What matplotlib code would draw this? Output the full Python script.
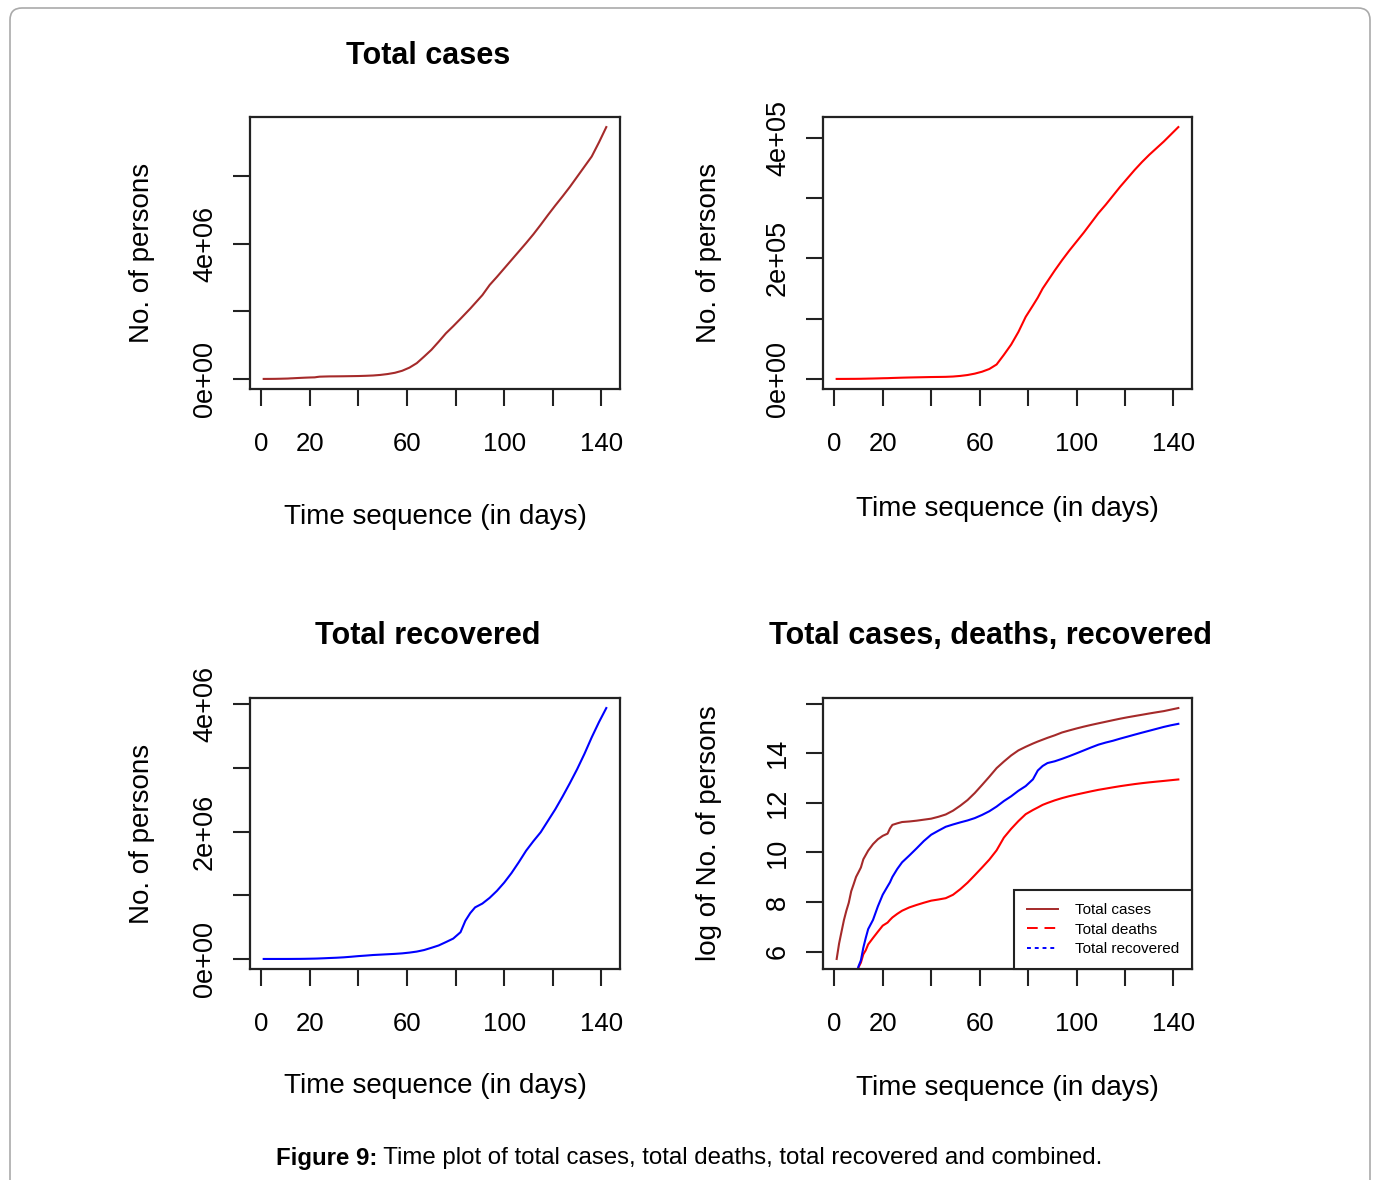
import numpy as np
import matplotlib
matplotlib.use('Agg')
import matplotlib.pyplot as plt
from matplotlib.lines import Line2D
from matplotlib.patches import FancyBboxPatch
from matplotlib.transforms import IdentityTransform

plt.rcParams['font.family'] = ['Liberation Sans', 'DejaVu Sans']

# world totals (day index 1..142)
days = [1, 2, 3, 4, 5, 6, 7, 8, 9, 10, 11, 12, 13, 14, 16, 18, 20, 22, 23, 24,
        26, 28, 31, 34, 37, 40, 43, 46, 49, 52, 55, 58, 61, 64, 67, 70, 73, 76,
        79, 82, 84, 86, 88, 91, 94, 97, 100, 103, 106, 109, 112, 115, 118, 121,
        124, 127, 130, 133, 136, 139, 142]

total_cases = [300, 560, 900, 1440, 2100, 2900, 4600, 6100, 8200, 9900, 12000,
               16700, 19900, 23700, 30800, 37500, 43000, 47000, 58000, 66900,
               71200, 75100, 76800, 79300, 82600, 86000, 92800, 101800, 118600,
               145000, 182000, 242000, 335000, 467000, 660000, 860000, 1100000,
               1350000, 1560000, 1780000, 1930000, 2080000, 2240000, 2480000,
               2780000, 3020000, 3270000, 3520000, 3770000, 4020000, 4280000,
               4560000, 4850000, 5130000, 5400000, 5680000, 5980000, 6280000,
               6580000, 7000000, 7450000]

total_deaths = [17, 18, 26, 42, 56, 82, 131, 133, 171, 213, 259, 362, 426, 540,
                700, 900, 1150, 1300, 1450, 1600, 1850, 2100, 2400, 2650, 2900,
                3150, 3300, 3480, 3990, 5000, 6500, 8800, 12000, 16500, 24000,
                40000, 57000, 78000, 103000, 122000, 135000, 150000, 162000,
                180000, 197000, 213000, 228000, 243000, 259000, 275000, 289000,
                304000, 319000, 333000, 347000, 360000, 372000, 383000, 394000,
                406000, 418000]

total_recovered = [28, 30, 36, 39, 52, 61, 107, 126, 143, 222, 284, 472, 700,
                   1000, 1450, 2500, 4000, 5600, 6600, 8200, 11300, 14800,
                   19500, 26000, 35000, 45000, 53000, 62000, 68000, 74000,
                   80000, 88000, 100000, 116000, 140000, 175000, 212000, 265000,
                   320000, 420000, 600000, 720000, 810000, 870000, 960000,
                   1070000, 1200000, 1350000, 1520000, 1700000, 1850000,
                   1990000, 2170000, 2350000, 2550000, 2760000, 2980000,
                   3220000, 3480000, 3720000, 3940000]

x_ticks = [0, 20, 40, 60, 80, 100, 120, 140]
x_tick_labels = ['0', '20', '', '60', '', '100', '', '140']

BROWN, RED, BLUE = '#A52A2A', '#FF0000', '#0000FF'
INK = '#222222'

W, H = 1376, 1180
fig = plt.figure(figsize=(W / 100, H / 100), dpi=100)


def px_rect(x0, y0, x1, y1):
    return [x0 / W, 1 - y1 / H, (x1 - x0) / W, (y1 - y0) / H]


def r_limits(v):
    lo, hi = min(v), max(v)
    pad = 0.04 * (hi - lo)
    return lo - pad, hi + pad


def setup(ax, yticks, ylabels, ylabel, xlab_y, ylab_x):
    ax.set_xlim(r_limits(days))
    ax.set_xticks(x_ticks)
    ax.set_xticklabels(x_tick_labels)
    ax.set_yticks(yticks)
    ax.set_yticklabels(ylabels, rotation=90, va='center')
    for s in ax.spines.values():
        s.set_linewidth(1.6)
        s.set_color(INK)
    ax.tick_params(axis='both', direction='out', length=12, width=1.5, color=INK)
    ax.tick_params(axis='x', labelsize=18.5, pad=19)
    ax.tick_params(axis='y', labelsize=19.5, pad=11)
    ax.set_xlabel('Time sequence (in days)', fontsize=20, va='center')
    ax.xaxis.set_label_coords(0.5, xlab_y)
    ax.set_ylabel(ylabel, fontsize=20, va='center')
    ax.yaxis.set_label_coords(ylab_x, 0.5)


def title(ax, text, x, y):
    ax.text(x, y, text, transform=ax.transAxes, ha='center', va='center',
            fontsize=22, fontweight='bold')


# top left: total cases
ax1 = fig.add_axes(px_rect(250, 117, 620, 389))
ax1.plot(days, total_cases, color=BROWN, lw=1.5)
ax1.set_ylim(r_limits(total_cases))
setup(ax1, [0, 2e6, 4e6, 6e6], ['0e+00', '', '4e+06', ''],
      'No. of persons', -0.469, -0.292)
title(ax1, 'Total cases', 0.481, 1.225)

# top right: total deaths
ax2 = fig.add_axes(px_rect(823, 117, 1192, 389))
ax2.plot(days, total_deaths, color=RED, lw=1.5)
ax2.set_ylim(r_limits(total_deaths))
setup(ax2, [0, 1e5, 2e5, 3e5, 4e5], ['0e+00', '', '2e+05', '', '4e+05'],
      'No. of persons', -0.443, -0.309)

# bottom left: total recovered
ax3 = fig.add_axes(px_rect(250, 698, 620, 969))
ax3.plot(days, total_recovered, color=BLUE, lw=1.5)
ax3.set_ylim(r_limits(total_recovered))
setup(ax3, [0, 1e6, 2e6, 3e6, 4e6], ['0e+00', '', '2e+06', '', '4e+06'],
      'No. of persons', -0.432, -0.292)
title(ax3, 'Total recovered', 0.481, 1.229)

# bottom right: log of all three
ax4 = fig.add_axes(px_rect(823, 698, 1192, 969))
log_cases = np.log(total_cases)
ax4.plot(days, log_cases, color=BROWN, lw=1.5)
ax4.plot(days, np.log(total_deaths), color=RED, lw=1.5)
ax4.plot(days, np.log(total_recovered), color=BLUE, lw=1.5)
ax4.set_ylim(r_limits(log_cases))
setup(ax4, [6, 8, 10, 12, 14, 16], ['6', '8', '10', '12', '14', ''],
      'log of No. of persons', -0.439, -0.309)
title(ax4, 'Total cases, deaths, recovered', 0.455, 1.229)

handles = [Line2D([], [], color=BROWN, lw=1.4),
           Line2D([], [], color=RED, lw=1.4, dashes=(5.5, 3.5)),
           Line2D([], [], color=BLUE, lw=1.4, dashes=(2, 2))]
leg = ax4.legend(handles, ['Total cases', 'Total deaths', 'Total recovered'],
                 loc='lower right', borderaxespad=0, fancybox=False,
                 edgecolor=INK, framealpha=1, fontsize=11, handlelength=2.0,
                 handletextpad=1.1, labelspacing=0.36, borderpad=0.85)
leg.get_frame().set_linewidth(1.5)

# page frame
frame = FancyBboxPatch((10, -30), 1360, 1202, boxstyle='round,pad=0,rounding_size=12',
                       transform=IdentityTransform(), facecolor='none',
                       edgecolor='#aaaaaa', lw=1.2)
fig.add_artist(frame)

# caption
cap_y = 1 - 1158 / H
t1 = fig.text(276 / W, cap_y, 'Figure 9:', fontsize=17.3, fontweight='bold', va='center')
fig.canvas.draw()
bb = t1.get_window_extent()
fig.text(bb.x1 / W, cap_y,
         ' Time plot of total cases, total deaths, total recovered and combined.',
         fontsize=17.3, va='center')

fig.savefig('out.png', dpi=100)
plt.close()
